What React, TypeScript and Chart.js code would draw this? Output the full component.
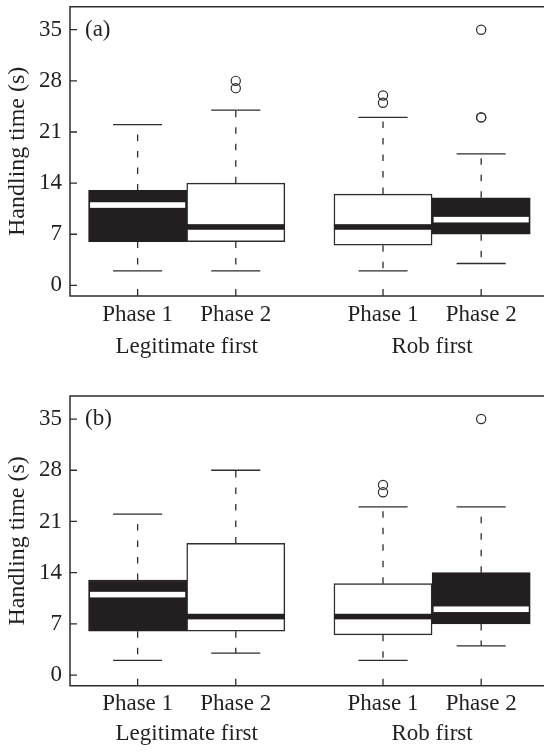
import React, { useEffect, useRef } from "react";
import { Chart, registerables } from "chart.js";

Chart.register(...registerables);

// ---------- data ----------
const phaseLabels = ["Phase 1", "Phase 2", "Phase 1", "Phase 2"];
const groupLabels = ["Legitimate first", "Rob first"];
const boxPositions = [1, 2, 3.5, 4.5];
const groupCenters = [1.5, 4];
const yTickValues = [0, 7, 14, 21, 28, 35];
const yAxisTitle = "Handling time (s)";

// Panel (a)
const lowerWhiskerA = [2, 2, 2, 3];
const lowerQuartileA = [6, 6, 5.5, 7];
const medianA = [11, 8, 8, 9];
const upperQuartileA = [13, 14, 12.5, 12];
const upperWhiskerA = [22, 24, 23, 18];
const outliersA = [[], [27, 28], [25, 26], [23, 23, 35]];

// Panel (b)
const lowerWhiskerB = [2, 3, 2, 4];
const lowerQuartileB = [6, 6, 5.5, 7];
const medianB = [11, 8, 8, 9];
const upperQuartileB = [13, 18, 12.5, 14];
const upperWhiskerB = [22, 28, 23, 23];
const outliersB = [[], [], [25, 26], [35]];

// ---------- style ----------
const FONT = "'Liberation Serif', 'Times New Roman', serif";
const DARK = "#231f20";
const EDGE = "#2e2c2d";
const boxShade = ["dark", "light", "light", "dark"];
const X_MIN = 0.311;
const X_MAX = 5.081;
const Y_MIN = -1.45;
const Y_MAX = 38.15;

type Panel = {
  tag: string;
  lower: number[];
  q1: number[];
  med: number[];
  q3: number[];
  upper: number[];
  outliers: number[][];
  padTop: number;
  xHeight: number;
  xPad: number;
  x2Height: number;
  x2Pad: number;
};

const panels: Panel[] = [
  {
    tag: "(a)",
    lower: lowerWhiskerA,
    q1: lowerQuartileA,
    med: medianA,
    q3: upperQuartileA,
    upper: upperWhiskerA,
    outliers: outliersA,
    padTop: 6.7,
    xHeight: 30,
    xPad: 5.2,
    x2Height: 50,
    x2Pad: 6.7,
  },
  {
    tag: "(b)",
    lower: lowerWhiskerB,
    q1: lowerQuartileB,
    med: medianB,
    q3: upperQuartileB,
    upper: upperWhiskerB,
    outliers: outliersB,
    padTop: 20,
    xHeight: 30,
    xPad: 4.5,
    x2Height: 36.3,
    x2Pad: 4.8,
  },
];

function makeChart(canvas: HTMLCanvasElement, p: Panel) {
  const boxPlugin = {
    id: "boxParts" + p.tag,
    beforeDatasetsDraw(chart: any) {
      const ctx = chart.ctx;
      const xs = chart.scales.x;
      const ys = chart.scales.y;
      ctx.save();
      ctx.strokeStyle = EDGE;
      ctx.lineWidth = 1.3;
      boxPositions.forEach((pos, i) => {
        const x = xs.getPixelForValue(pos);
        const half = xs.getPixelForValue(pos + 0.25) - x;
        const yU = ys.getPixelForValue(p.upper[i]);
        const yQ3 = ys.getPixelForValue(p.q3[i]);
        const yQ1 = ys.getPixelForValue(p.q1[i]);
        const yL = ys.getPixelForValue(p.lower[i]);
        ctx.setLineDash([6.5, 10]);
        ctx.beginPath();
        ctx.moveTo(x, yQ3);
        ctx.lineTo(x, yU);
        ctx.moveTo(x, yQ1);
        ctx.lineTo(x, yL);
        ctx.stroke();
        ctx.setLineDash([]);
        ctx.beginPath();
        ctx.moveTo(x - half, yU);
        ctx.lineTo(x + half, yU);
        ctx.moveTo(x - half, yL);
        ctx.lineTo(x + half, yL);
        ctx.stroke();
      });
      ctx.restore();
    },
    afterDatasetDraw(chart: any, args: any) {
      if (args.index !== 0) return;
      const ctx = chart.ctx;
      const ys = chart.scales.y;
      const meta = chart.getDatasetMeta(0);
      ctx.save();
      meta.data.forEach((el: any, i: number) => {
        const y = ys.getPixelForValue(p.med[i]);
        const dark = boxShade[i] === "dark";
        const inset = dark ? 1.5 : 0;
        const left = el.x - el.width / 2 + inset;
        const w = el.width - 2 * inset;
        ctx.fillStyle = dark ? "#ffffff" : DARK;
        ctx.fillRect(left, y - 2.8, w, 5.6);
      });
      ctx.restore();
    },
    afterDraw(chart: any) {
      const ctx = chart.ctx;
      const a = chart.chartArea;
      const xs = chart.scales.x;
      const ys = chart.scales.y;
      ctx.save();
      ctx.strokeStyle = EDGE;
      ctx.lineWidth = 1.5;
      ctx.beginPath();
      ctx.moveTo(chart.width + 2, a.top);
      ctx.lineTo(a.left, a.top);
      ctx.lineTo(a.left, a.bottom);
      ctx.lineTo(chart.width + 2, a.bottom);
      ctx.stroke();
      ctx.lineWidth = 1.3;
      ctx.beginPath();
      yTickValues.forEach((v) => {
        const y = ys.getPixelForValue(v);
        ctx.moveTo(a.left, y);
        ctx.lineTo(a.left + 7, y);
      });
      boxPositions.forEach((v) => {
        const x = xs.getPixelForValue(v);
        ctx.moveTo(x, a.bottom);
        ctx.lineTo(x, a.bottom - 7);
      });
      ctx.stroke();
      ctx.fillStyle = DARK;
      ctx.font = `23px ${FONT}`;
      ctx.textAlign = "left";
      ctx.textBaseline = "middle";
      ctx.fillText(p.tag, a.left + 15, ys.getPixelForValue(yTickValues[yTickValues.length - 1]));
      ctx.restore();
    },
  };

  const tickFont = { family: FONT, size: 23 };

  return new Chart(canvas, {
    type: "bar",
    data: {
      datasets: [
        {
          type: "bar",
          data: boxPositions.map((x, i) => ({ x, y: [p.q1[i], p.q3[i]] })) as any,
          backgroundColor: boxShade.map((s) => (s === "dark" ? DARK : "#ffffff")),
          borderColor: boxShade.map((s) => (s === "dark" ? DARK : EDGE)),
          borderWidth: 1.5,
          borderSkipped: false,
          categoryPercentage: 1,
          barPercentage: 1,
          xAxisID: "x",
          yAxisID: "y",
        },
        {
          type: "scatter",
          data: p.outliers.flatMap((vals, i) => vals.map((v) => ({ x: boxPositions[i], y: v }))),
          pointRadius: 4.6,
          pointBackgroundColor: "rgba(255,255,255,0)",
          pointBorderColor: EDGE,
          pointBorderWidth: 1.2,
          xAxisID: "x",
          yAxisID: "y",
        } as any,
      ],
    },
    options: {
      animation: false,
      responsive: false,
      devicePixelRatio: 1,
      layout: { padding: { top: p.padTop, left: 0, right: 0, bottom: 0 } },
      plugins: { legend: { display: false }, tooltip: { enabled: false } },
      scales: {
        x: {
          type: "linear",
          position: "bottom",
          weight: 0,
          min: X_MIN,
          max: X_MAX,
          bounds: "data",
          offset: false,
          grid: { display: false, drawTicks: false, offset: false },
          border: { display: false },
          afterBuildTicks: (s: any) => {
            s.ticks = boxPositions.map((v) => ({ value: v }));
          },
          ticks: {
            callback: (_v: any, i: number) => phaseLabels[i],
            font: tickFont,
            color: DARK,
            padding: p.xPad,
            maxRotation: 0,
            autoSkip: false,
          },
          afterFit: (s: any) => {
            s.height = p.xHeight;
            s.paddingLeft = 0;
            s.paddingRight = 0;
          },
        },
        x2: {
          type: "linear",
          position: "bottom",
          weight: 1,
          min: X_MIN,
          max: X_MAX,
          bounds: "data",
          offset: false,
          grid: { display: false, drawTicks: false, offset: false },
          border: { display: false },
          afterBuildTicks: (s: any) => {
            s.ticks = groupCenters.map((v) => ({ value: v }));
          },
          ticks: {
            callback: (_v: any, i: number) => groupLabels[i],
            font: tickFont,
            color: DARK,
            padding: p.x2Pad,
            maxRotation: 0,
            autoSkip: false,
          },
          afterFit: (s: any) => {
            s.height = p.x2Height;
            s.paddingLeft = 0;
            s.paddingRight = 0;
          },
        },
        y: {
          type: "linear",
          min: Y_MIN,
          max: Y_MAX,
          bounds: "data",
          grid: { display: false, drawTicks: false },
          border: { display: false },
          afterBuildTicks: (s: any) => {
            s.ticks = yTickValues.map((v) => ({ value: v }));
          },
          ticks: { font: tickFont, color: DARK, padding: 8 },
          title: {
            display: true,
            text: yAxisTitle,
            font: { family: FONT, size: 24 },
            color: DARK,
            padding: { top: 3, bottom: 0 },
          },
          afterFit: (s: any) => {
            s.width = 70;
            s.paddingTop = 0;
            s.paddingBottom = 0;
          },
        },
      },
    } as any,
    plugins: [boxPlugin],
  });
}

function PanelChart({ panel }: { panel: Panel }) {
  const ref = useRef<HTMLCanvasElement | null>(null);
  useEffect(() => {
    if (!ref.current) return;
    const chart = makeChart(ref.current, panel);
    return () => chart.destroy();
  }, [panel]);
  return <canvas ref={ref} width={544} height={376} style={{ display: "block" }} />;
}

export default function App() {
  return (
    <div style={{ position: "absolute", left: 0, top: 0, width: 544, height: 752, background: "#ffffff" }}>
      {panels.map((p) => (
        <PanelChart key={p.tag} panel={p} />
      ))}
    </div>
  );
}
